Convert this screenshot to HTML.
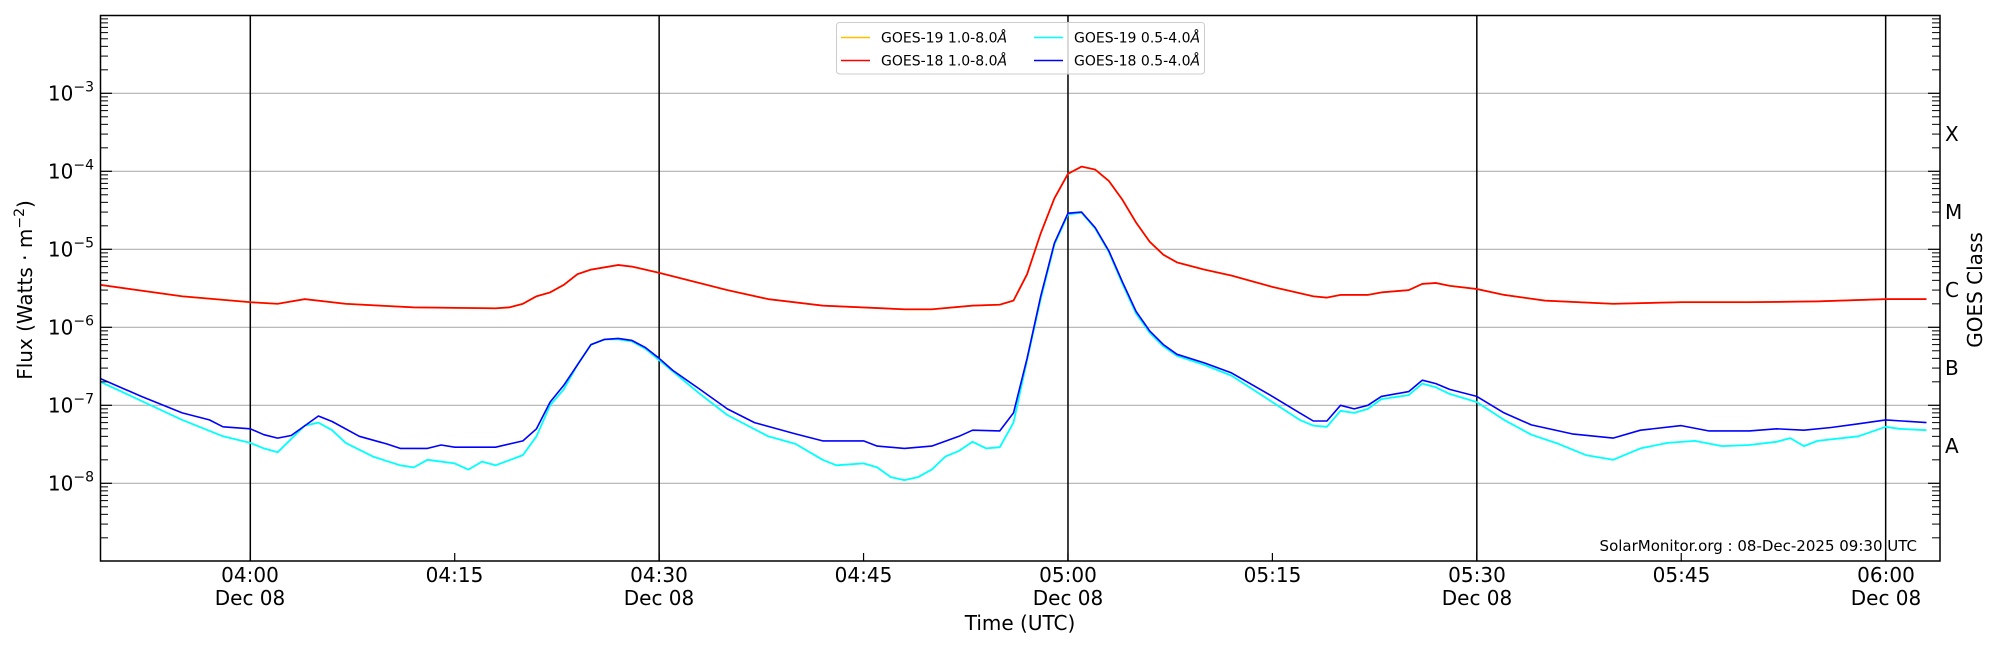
<!DOCTYPE html>
<html><head><meta charset="utf-8"><style>
html,body{margin:0;padding:0;background:#fff;}
svg{display:block;font-family:"DejaVu Sans","Liberation Sans",sans-serif;}
</style></head><body>
<svg id="s" width="2000" height="650" viewBox="0 0 2000 650" xmlns="http://www.w3.org/2000/svg">
<rect width="2000" height="650" fill="#fff"/>
<g id="grid"></g>
<g id="data"></g>
<rect x="100.5" y="15.5" width="1839.5" height="545.5" fill="none" stroke="#000" stroke-width="1.5"/>
<g id="ticks"></g>
<g font-size="20" fill="#000" text-anchor="middle">
<text x="250" y="582">04:00</text><text x="250" y="605">Dec 08</text>
<text x="454.5" y="582">04:15</text>
<text x="659" y="582">04:30</text><text x="659" y="605">Dec 08</text>
<text x="863.5" y="582">04:45</text>
<text x="1068" y="582">05:00</text><text x="1068" y="605">Dec 08</text>
<text x="1272.5" y="582">05:15</text>
<text x="1477" y="582">05:30</text><text x="1477" y="605">Dec 08</text>
<text x="1681.5" y="582">05:45</text>
<text x="1886" y="582">06:00</text><text x="1886" y="605">Dec 08</text>
<text x="1020" y="630">Time (UTC)</text>
<text transform="translate(32,290) rotate(-90)">Flux (Watts · m<tspan dy="-8" font-size="14">−2</tspan><tspan dy="8">)</tspan></text>
<text transform="translate(1982,290) rotate(-90)">GOES Class</text>
</g>
<g font-size="20" fill="#000" id="ylab"></g>
<g font-size="20" fill="#000" text-anchor="start">
<text x="1945" y="141">X</text>
<text x="1945" y="219">M</text>
<text x="1945" y="297">C</text>
<text x="1945" y="375">B</text>
<text x="1945" y="453">A</text>
</g>
<text x="1917" y="551" font-size="15" text-anchor="end">SolarMonitor.org : 08-Dec-2025 09:30 UTC</text>
<g>
<rect x="836.5" y="22.5" width="368" height="51.5" rx="3" fill="#fff" fill-opacity="0.8" stroke="#ccc" stroke-width="1"/>
<line x1="841" y1="37.5" x2="870" y2="37.5" stroke="#ffc000" stroke-width="1.5"/>
<line x1="841" y1="60.5" x2="870" y2="60.5" stroke="#ff0000" stroke-width="1.5"/>
<line x1="1034" y1="37.5" x2="1063" y2="37.5" stroke="#00ffff" stroke-width="1.5"/>
<line x1="1034" y1="60.5" x2="1063" y2="60.5" stroke="#0000ff" stroke-width="1.5"/>
<g font-size="14"><text x="881" y="42.5">GOES-19 1.0-8.0<tspan font-style="italic">Å</tspan></text>
<text x="881" y="65.5">GOES-18 1.0-8.0<tspan font-style="italic">Å</tspan></text>
<text x="1074" y="42.5">GOES-19 0.5-4.0<tspan font-style="italic">Å</tspan></text>
<text x="1074" y="65.5">GOES-18 0.5-4.0<tspan font-style="italic">Å</tspan></text></g>
</g>
</svg>
<script>
(function(){
var NS="http://www.w3.org/2000/svg";
function X(m){return 250.3+13.628*m;}
function Y(l){return 93.3+(-3-l)*78;}
function el(p,t,a){var e=document.createElementNS(NS,t);for(var k in a)e.setAttribute(k,a[k]);document.getElementById(p).appendChild(e);return e;}
for(var d=-8;d<=-3;d++){var y=Y(d);el("grid","line",{x1:100,y1:y,x2:1940,y2:y,stroke:"#b0b0b0","stroke-width":1.2});}
for(var m=0;m<=120;m+=30){el("grid","line",{x1:X(m),y1:15,x2:X(m),y2:561,stroke:"#000","stroke-width":1.5});}
for(var d=-9;d<=-2;d++){
 var y=Y(d);
 if(d>-9&&d<-2){el("ticks","line",{x1:100,y1:y,x2:112,y2:y,stroke:"#000","stroke-width":1.2});el("ticks","line",{x1:1940,y1:y,x2:1928,y2:y,stroke:"#000","stroke-width":1.2});}
 if(d<-2)for(var k=2;k<=9;k++){var yy=Y(d+Math.log10(k));el("ticks","line",{x1:100,y1:yy,x2:108,y2:yy,stroke:"#000","stroke-width":1});el("ticks","line",{x1:1940,y1:yy,x2:1932,y2:yy,stroke:"#000","stroke-width":1});}
}
for(var m=-15;m<=135;m+=15){var x=X(m);if(x>100&&x<1940)el("ticks","line",{x1:x,y1:561,x2:x,y2:553,stroke:"#000","stroke-width":1.2});}
for(var d=-8;d<=-3;d++){var t=el("ylab","text",{x:94,y:Y(d)+7,"text-anchor":"end"});t.innerHTML="10<tspan dy='-9' font-size='14'>−"+(-d)+"</tspan>";}
function T(h,mm){return (h-4)*60+mm;}
function P(arr){var s=[];for(var i=0;i<arr.length;i+=2){var t=arr[i];var m=T(Math.floor(t/100),t%100);s.push(X(m).toFixed(1)+","+Y(Math.log10(arr[i+1])).toFixed(1));}return s.join(" ");}
var red=[349,3.5e-6,355,2.5e-6,400,2.1e-6,402,2.0e-6,404,2.3e-6,407,2.0e-6,412,1.8e-6,418,1.75e-6,419,1.8e-6,420,2.0e-6,421,2.5e-6,422,2.8e-6,423,3.5e-6,424,4.8e-6,425,5.5e-6,427,6.3e-6,428,6.0e-6,430,5.0e-6,435,3.0e-6,438,2.3e-6,442,1.9e-6,448,1.7e-6,450,1.7e-6,453,1.9e-6,455,1.95e-6,456,2.2e-6,457,4.8e-6,458,1.6e-5,459,4.5e-5,500,9.3e-5,501,1.15e-4,502,1.05e-4,503,7.5e-5,504,4.3e-5,505,2.2e-5,506,1.25e-5,507,8.5e-6,508,6.8e-6,510,5.5e-6,512,4.6e-6,515,3.3e-6,518,2.5e-6,519,2.4e-6,520,2.6e-6,522,2.6e-6,523,2.8e-6,525,3.0e-6,526,3.6e-6,527,3.7e-6,528,3.4e-6,530,3.1e-6,532,2.6e-6,535,2.2e-6,540,2.0e-6,545,2.1e-6,550,2.1e-6,555,2.15e-6,600,2.3e-6,603,2.3e-6];
var blue=[349,2.2e-7,352,1.3e-7,355,8e-8,357,6.5e-8,358,5.3e-8,400,5e-8,401,4.2e-8,402,3.8e-8,403,4.1e-8,405,7.3e-8,406,6.2e-8,408,4e-8,410,3.2e-8,411,2.8e-8,413,2.8e-8,414,3.1e-8,415,2.9e-8,418,2.9e-8,420,3.5e-8,421,5e-8,422,1.1e-7,423,1.8e-7,424,3.3e-7,425,6e-7,426,7e-7,427,7.2e-7,428,6.8e-7,429,5.5e-7,430,4e-7,431,2.8e-7,433,1.6e-7,435,9e-8,437,6e-8,440,4.3e-8,442,3.5e-8,445,3.5e-8,446,3.0e-8,448,2.8e-8,450,3.0e-8,452,4.0e-8,453,4.8e-8,455,4.7e-8,456,8e-8,457,4e-7,458,2.5e-6,459,1.2e-5,500,2.9e-5,501,3.0e-5,502,1.9e-5,503,9.5e-6,504,3.8e-6,505,1.6e-6,506,9e-7,507,6e-7,508,4.5e-7,510,3.5e-7,512,2.6e-7,515,1.3e-7,517,8e-8,518,6.3e-8,519,6.3e-8,520,1e-7,521,9e-8,522,1e-7,523,1.3e-7,525,1.5e-7,526,2.1e-7,527,1.9e-7,528,1.6e-7,530,1.3e-7,532,8e-8,534,5.6e-8,537,4.3e-8,540,3.8e-8,542,4.8e-8,545,5.5e-8,547,4.7e-8,550,4.7e-8,552,5e-8,554,4.8e-8,556,5.2e-8,558,5.8e-8,600,6.5e-8,603,6e-8];
var cyan=[349,2.0e-7,355,6.5e-8,358,4e-8,400,3.3e-8,401,2.8e-8,402,2.5e-8,404,5.5e-8,405,6e-8,406,4.8e-8,407,3.3e-8,409,2.2e-8,411,1.7e-8,412,1.6e-8,413,2e-8,415,1.8e-8,416,1.5e-8,417,1.9e-8,418,1.7e-8,420,2.3e-8,421,4e-8,422,1e-7,423,1.6e-7,424,3.3e-7,425,6e-7,426,7e-7,427,7e-7,428,6.6e-7,429,5.3e-7,430,3.8e-7,433,1.4e-7,435,7.5e-8,438,4e-8,440,3.2e-8,442,2e-8,443,1.7e-8,445,1.8e-8,446,1.6e-8,447,1.2e-8,448,1.1e-8,449,1.2e-8,450,1.5e-8,451,2.2e-8,452,2.6e-8,453,3.4e-8,454,2.8e-8,455,2.9e-8,456,6e-8,457,3.8e-7,458,2.3e-6,459,1.15e-5,500,2.8e-5,501,2.95e-5,502,1.85e-5,503,9.2e-6,504,3.6e-6,505,1.5e-6,506,8.5e-7,507,5.7e-7,508,4.3e-7,510,3.3e-7,512,2.4e-7,515,1.1e-7,517,6.5e-8,518,5.5e-8,519,5.3e-8,520,8.5e-8,521,8e-8,522,9e-8,523,1.2e-7,525,1.35e-7,526,1.9e-7,527,1.7e-7,528,1.4e-7,530,1.1e-7,532,6.5e-8,534,4.2e-8,536,3.2e-8,538,2.3e-8,540,2.0e-8,542,2.8e-8,544,3.3e-8,546,3.5e-8,548,3e-8,550,3.1e-8,552,3.4e-8,553,3.8e-8,554,3e-8,555,3.5e-8,558,4e-8,600,5.3e-8,601,5e-8,603,4.8e-8];
el("data","polyline",{points:P(red),fill:"none",stroke:"#ffc000","stroke-width":1.8,"stroke-linejoin":"round"});
el("data","polyline",{points:P(red),fill:"none",stroke:"#ff0000","stroke-width":1.7,"stroke-linejoin":"round"});
el("data","polyline",{points:P(cyan),fill:"none",stroke:"#00ffff","stroke-width":1.8,"stroke-linejoin":"round"});
el("data","polyline",{points:P(blue),fill:"none",stroke:"#0000ff","stroke-width":1.6,"stroke-linejoin":"round"});
})();
</script>
</body></html>
